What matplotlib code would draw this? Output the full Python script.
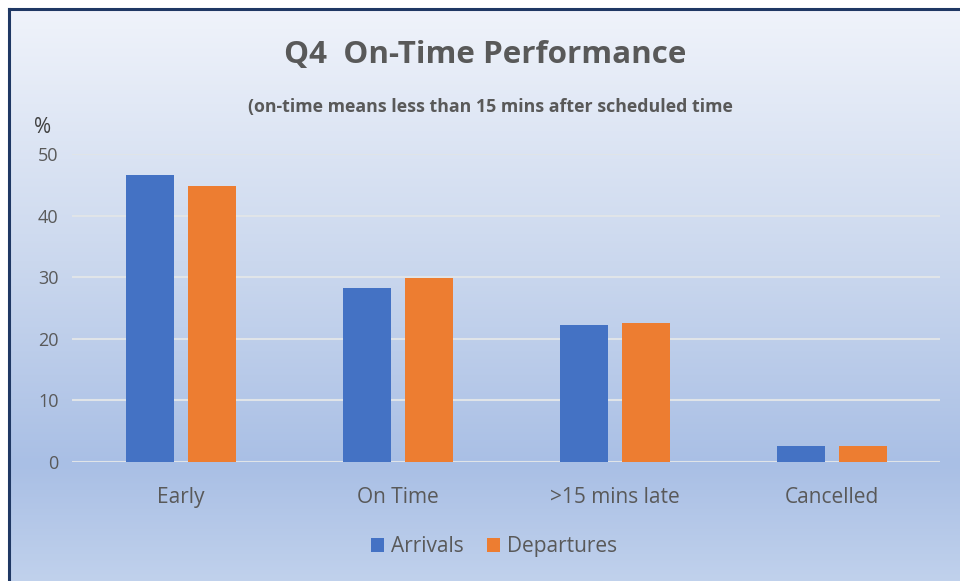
"""
Q4 On-Time Performance - grouped bar chart
"""

import matplotlib.pyplot as plt
import numpy as np
from matplotlib.colors import LinearSegmentedColormap
from matplotlib.patches import Rectangle

# data
categories = ['Early', 'On Time', '>15 mins late', 'Cancelled']
arrivals = [46.6, 28.2, 22.2, 2.6]
departures = [44.8, 29.9, 22.5, 2.6]
yticks = [0, 10, 20, 30, 40, 50]

plt.rcParams['font.family'] = ['Open Sans', 'DejaVu Sans']

fig = plt.figure(figsize=(9.6, 5.81), dpi=100)

# background gradient (light at top, blue lower down)
bg = fig.add_axes([0, 0, 1, 1], zorder=-10)
cmap = LinearSegmentedColormap.from_list(
    'bg', [(0.0, '#c0d1ec'), (0.2, '#a9bfe5'), (0.55, '#cbd8ee'), (1.0, '#f1f4fb')])
grad = np.linspace(0, 1, 256).reshape(-1, 1)
bg.imshow(grad, aspect='auto', cmap=cmap, origin='lower', extent=[0, 1, 0, 1])
bg.set_xlim(0, 1)
bg.set_ylim(0, 1)
bg.axis('off')
# white margin + dark frame on the left and top
bg.add_patch(Rectangle((0, 0), 8 / 960, 1, color='white', zorder=2))
bg.add_patch(Rectangle((0, 1 - 8 / 581), 1, 8 / 581, color='white', zorder=2))
bg.plot([8.5 / 960, 8.5 / 960], [0, 1 - 8.5 / 581], color='#1f3864', lw=2.2, zorder=3)
bg.plot([8.5 / 960, 1], [1 - 8.5 / 581, 1 - 8.5 / 581], color='#1f3864', lw=2.2, zorder=3)

ax = fig.add_axes([0.0755, 0.2048, 0.904, 0.530])
ax.patch.set_alpha(0)
x = np.arange(len(categories))
w = 0.221
ax.bar(x - 0.142, arrivals, w, color='#4472c4', label='Arrivals', zorder=3)
ax.bar(x + 0.142, departures, w, color='#ed7d31', label='Departures', zorder=3)

ax.set_xlim(-0.5, 3.5)
ax.set_ylim(0, 50)
ax.set_yticks(yticks)
ax.set_xticks(x)
ax.set_xticklabels(categories)
ax.grid(axis='y', color='#e0e4e8', lw=1.5, zorder=0)
for s in ax.spines.values():
    s.set_visible(False)
ax.tick_params(length=0, colors='#595959', labelsize=13)
ax.tick_params(axis='x', pad=18, labelsize=15)
ax.tick_params(axis='y', pad=10)

fig.text(0.505, 0.906, 'Q4  On-Time Performance', ha='center', va='center',
         fontsize=22.6, fontweight='bold', color='#595959')
fig.text(0.511, 0.816, '(on-time means less than 15 mins after scheduled time',
         ha='center', va='center', fontsize=12.8, fontweight='bold', color='#595959')
fig.text(0.044, 0.781, '%', ha='center', va='center', fontsize=15, color='#404040')

ax.legend(loc='center', bbox_to_anchor=(0.486, -0.276), ncol=2, frameon=False,
          fontsize=15, labelcolor='#595959', handlelength=0.63, handleheight=0.63,
          handletextpad=0.34, columnspacing=1.1)

plt.savefig('out.png', dpi=100)
